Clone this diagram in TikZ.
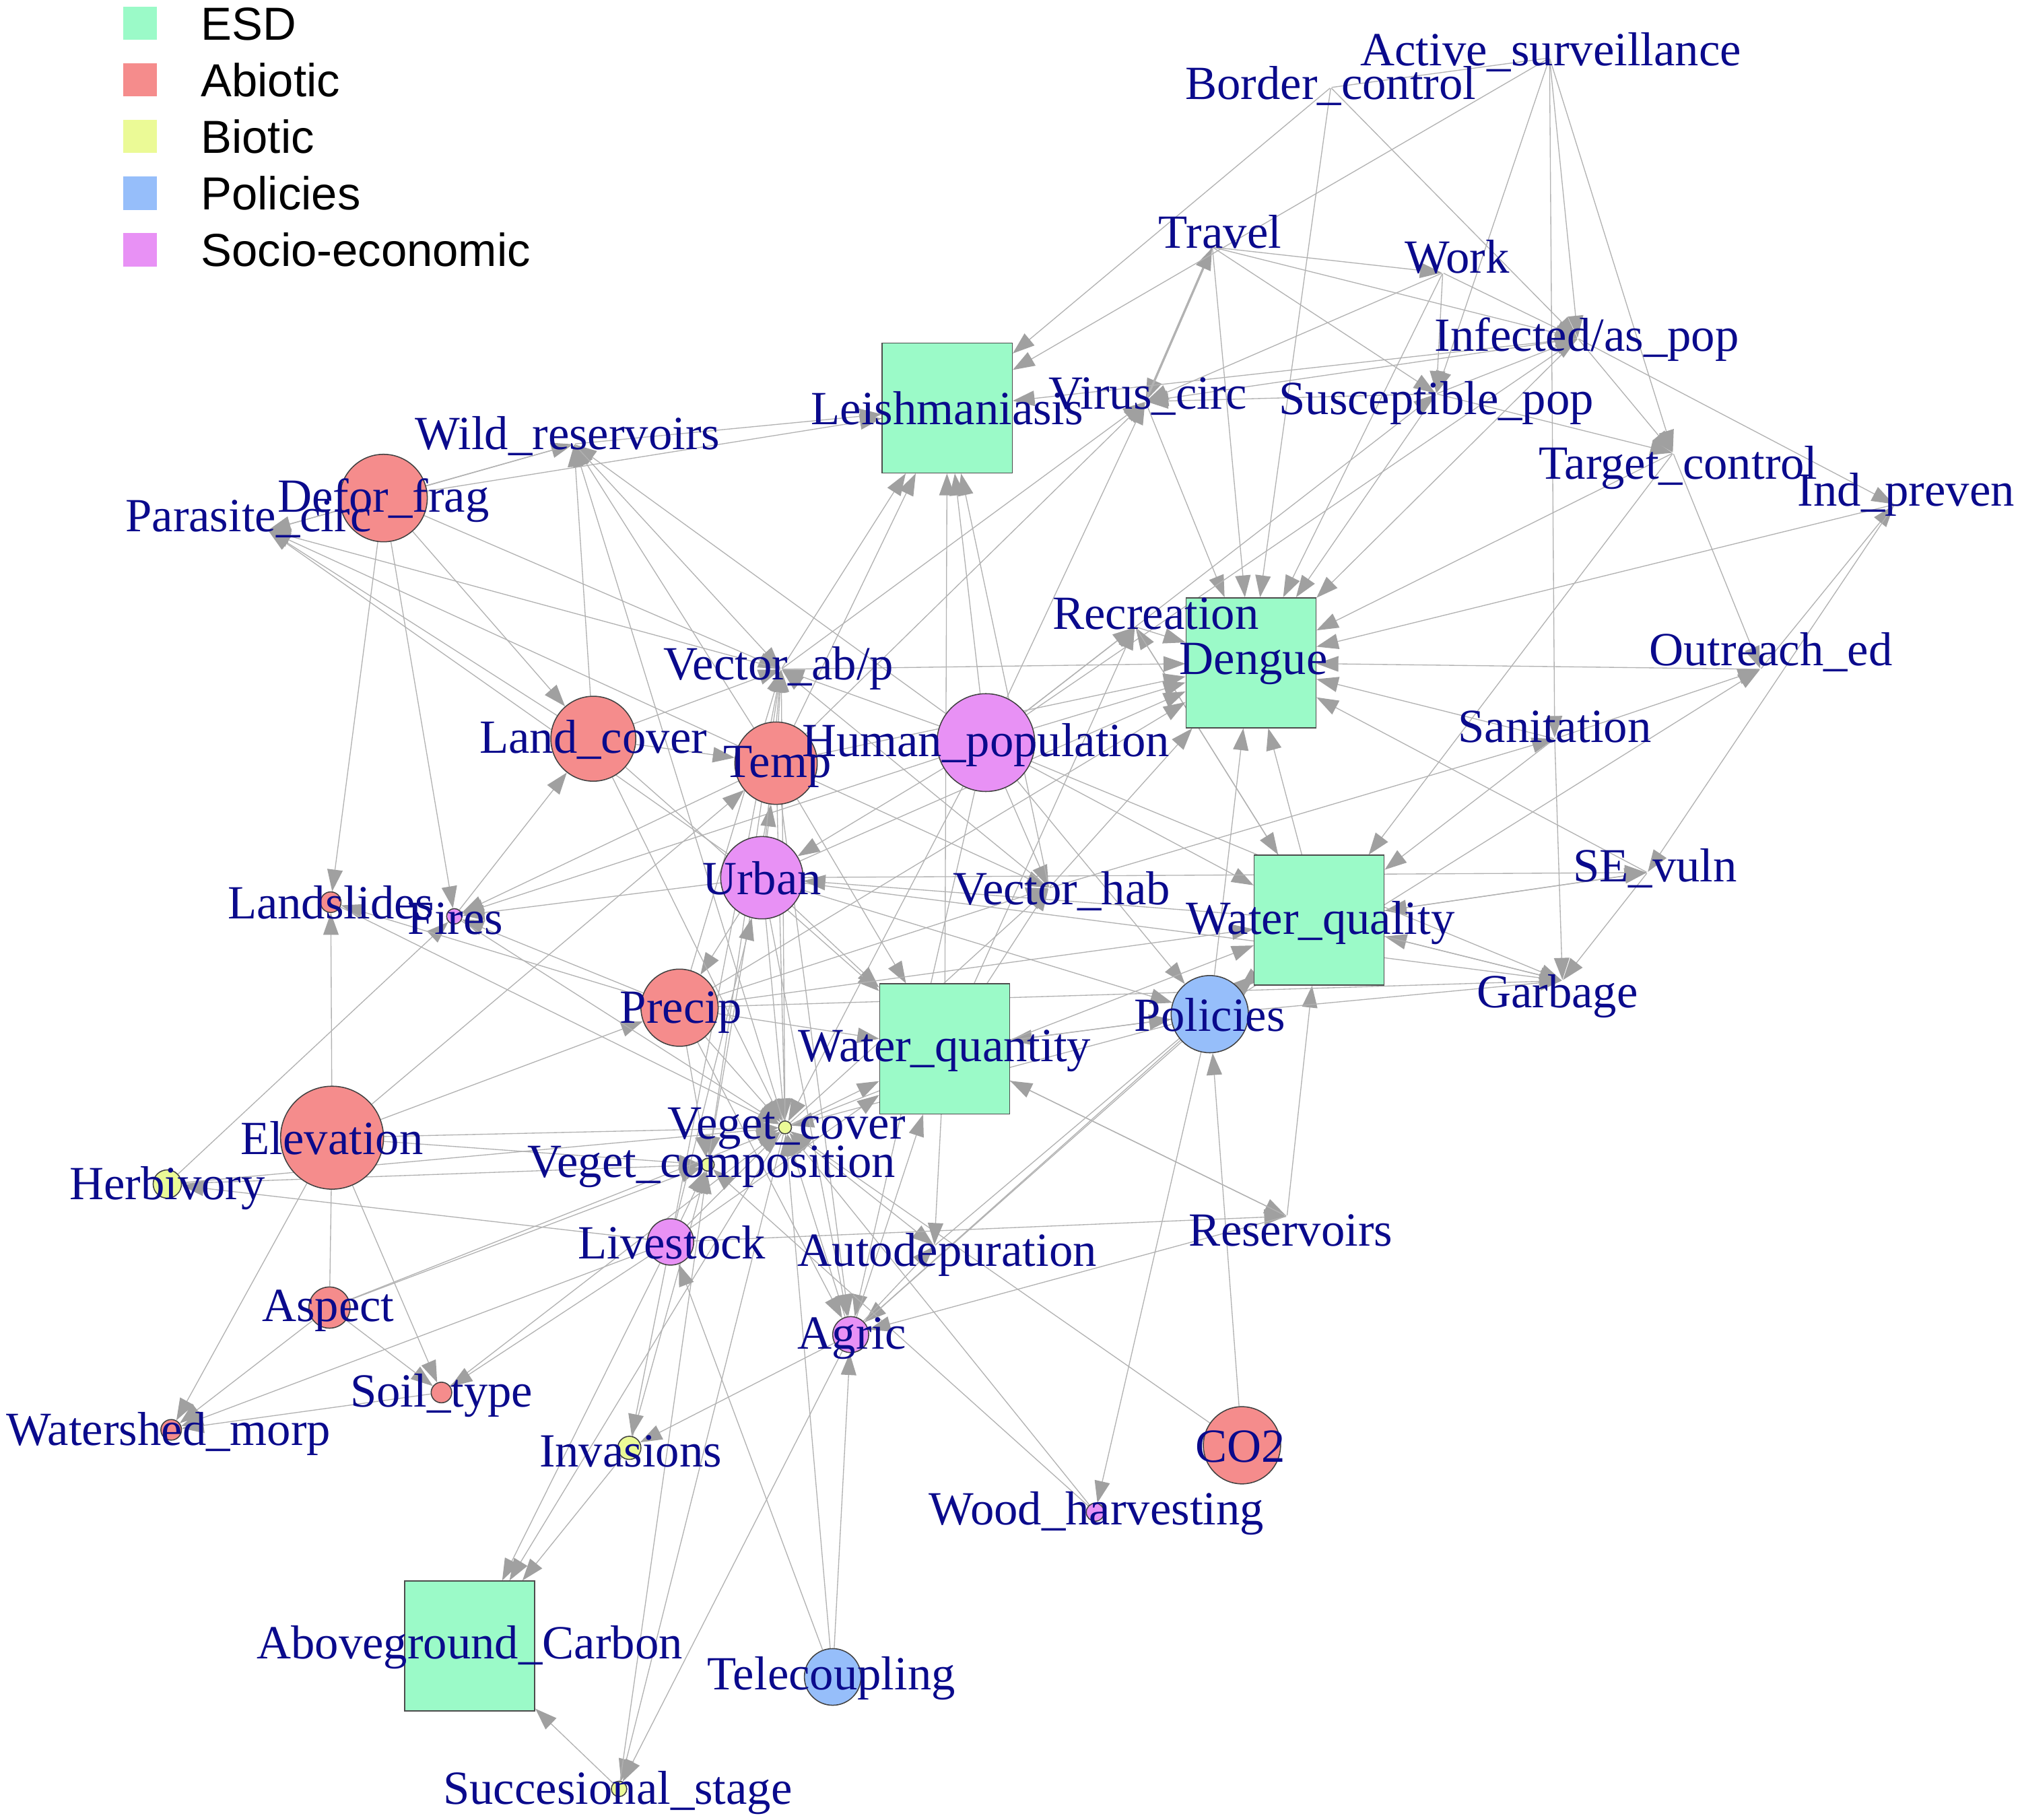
\documentclass[tikz,border=0pt]{standalone}
\usepackage{fontspec}
\setmainfont{Liberation Serif}
\newfontfamily\legfont{Liberation Sans}
\usetikzlibrary{arrows.meta}
\definecolor{esdc}{RGB}{155,250,200}
\definecolor{abioc}{RGB}{245,140,140}
\definecolor{bioc}{RGB}{235,250,150}
\definecolor{polc}{RGB}{150,190,250}
\definecolor{socc}{RGB}{232,145,245}
\definecolor{lblc}{RGB}{10,10,140}
\definecolor{edgec}{RGB}{178,178,178}
\definecolor{tipc}{RGB}{160,160,160}
\pgfdeclarelayer{bg}
\pgfsetlayers{bg,main}
\begin{document}
\begin{tikzpicture}[x=1pt,y=-1pt,
  pt/.style={circle,inner sep=0pt,minimum size=1pt},
  vtx/.style={circle,draw=black!75,line width=0.8pt,inner sep=0pt,minimum size=#1},
  esd/.style={rectangle,draw=black!70,line width=0.8pt,fill=esdc,minimum width=101pt,minimum height=101pt,inner sep=0pt},
  edge/.style={draw=edgec,line width=0.7pt,-{Triangle[length=17pt,width=12pt,color=tipc]}},
  plain/.style={draw=edgec,line width=0.7pt},
  lbl/.style={text=lblc,anchor=base,inner sep=0pt,font=\fontsize{37}{44}\selectfont},
  legtxt/.style={anchor=base west,inner sep=0pt,font=\legfont\fontsize{36}{42}\selectfont},
  legbox/.style={minimum size=26pt,inner sep=0pt}]
\useasboundingbox (0,0) rectangle (1568,1414);

% legend
\node[legbox,fill=esdc] (lg1) at (109,18) {};
\node[legbox,fill=abioc] (lg2) at (109,62) {};
\node[legbox,fill=bioc] (lg3) at (109,106) {};
\node[legbox,fill=polc] (lg4) at (109,150) {};
\node[legbox,fill=socc] (lg5) at (109,194) {};
\node[legtxt] (lt1) at (156,31) {ESD};
\node[legtxt] (lt2) at (156,75) {Abiotic};
\node[legtxt] (lt3) at (156,119) {Biotic};
\node[legtxt] (lt4) at (156,163) {Policies};
\node[legtxt] (lt5) at (156,207) {Socio-economic};

% label-only vertices
\node[pt] (act) at (1204,45) {};
\node[pt] (bor) at (1034,68) {};
\node[pt] (tra) at (942,192) {};
\node[pt] (wrk) at (1121,212) {};
\node[pt] (inf) at (1226,263) {};
\node[pt] (sus) at (1116,306) {};
\node[pt] (vir) at (890,312) {};
\node[pt] (tgt) at (1300,352) {};
\node[pt] (ind) at (1472,392) {};
\node[pt] (out) at (1368,520) {};
\node[pt] (san) at (1208,574) {};
\node[pt] (sev) at (1280,678) {};
\node[pt] (gar) at (1214,762) {};
\node[pt] (res) at (1000,945) {};
\node[pt] (rec) at (882,487) {};
\node[pt] (vab) at (607,520) {};
\node[pt] (vha) at (815,690) {};
\node[pt] (aut) at (726,968) {};
\node[pt] (wil) at (446,345) {};
\node[pt] (par) at (208,412) {};

% ESD boxes
\node[esd] (lei) at (736,317) {};
\node[esd] (den) at (972,515) {};
\node[esd] (wql) at (1025,715) {};
\node[esd] (wqn) at (734,815) {};
\node[esd] (agc) at (365,1279) {};

% abiotic
\node[vtx=68pt,fill=abioc] (def) at (298,387) {};
\node[vtx=66pt,fill=abioc] (lan) at (461,574) {};
\node[vtx=64pt,fill=abioc] (tem) at (603,593) {};
\node[vtx=60pt,fill=abioc] (pre) at (528,783) {};
\node[vtx=80pt,fill=abioc] (ele) at (258,884) {};
\node[vtx=32pt,fill=abioc] (asp) at (256,1016) {};
\node[vtx=16pt,fill=abioc] (soi) at (343,1082) {};
\node[vtx=16pt,fill=abioc] (wat) at (133,1111) {};
\node[vtx=60pt,fill=abioc] (co2) at (965,1123) {};
\node[vtx=16pt,fill=abioc] (lsl) at (257,701) {};
% biotic
\node[vtx=22pt,fill=bioc] (her) at (130,920) {};
\node[vtx=10pt,fill=bioc] (vco) at (610,876) {};
\node[vtx=10pt,fill=bioc] (vcm) at (550,905) {};
\node[vtx=18pt,fill=bioc] (inv) at (489,1125) {};
\node[vtx=12pt,fill=bioc] (suc) at (481,1390) {};
% policies
\node[vtx=60pt,fill=polc] (pol) at (940,788) {};
\node[vtx=44pt,fill=polc] (tel) at (647,1303) {};
% socio-economic
\node[vtx=76pt,fill=socc] (hum) at (766,577) {};
\node[vtx=64pt,fill=socc] (urb) at (592,682) {};
\node[vtx=36pt,fill=socc] (liv) at (521,965) {};
\node[vtx=28pt,fill=socc] (agr) at (661,1037) {};
\node[vtx=12pt,fill=socc] (fir) at (353,712) {};
\node[vtx=14pt,fill=socc] (woo) at (851,1175) {};

\begin{pgfonlayer}{bg}
\draw[plain] (act) -- (bor);
\draw[plain] (ele) -- (asp);
\draw[edge,line width=1.6pt] (tra) -- (vir);
\draw[edge,line width=1.6pt] (vir) -- (tra);
\foreach \a/\b in {bor/lei,act/lei,bor/den,bor/inf,act/sus,act/inf,act/tgt,act/san,
  tra/sus,tra/inf,tra/den,tra/wrk,wrk/inf,wrk/sus,wrk/den,wrk/vir,
  inf/vir,sus/vir,inf/lei,vir/den,inf/den,sus/den,tgt/den,ind/den,out/den,san/den,sev/den,
  sus/inf,inf/tgt,inf/ind,out/ind,tgt/out,sus/tgt,ind/sev,san/gar,san/out,vha/san,san/wql,
  hum/sus,hum/inf,tgt/wql,
  wql/den,pol/den,wql/sev,gar/wql,sev/wql,wql/gar,res/wql,hum/wql,urb/gar,hum/gar,pre/gar,pol/gar,sev/gar,
  urb/sev,wql/urb,wql/pol,pol/wql,co2/pol,pol/woo,pol/wqn,wqn/pol,pol/vco,pol/agr,pol/out,hum/pol,urb/pol,
  wqn/res,res/wqn,wql/rec,wqn/rec,rec/den,rec/wql,
  hum/lei,hum/den,hum/vir,hum/urb,hum/vha,hum/rec,hum/vab,hum/wil,hum/fir,hum/vco,hum/agr,
  tem/vab,tem/lei,tem/den,tem/vir,tem/vco,tem/vcm,tem/vha,tem/par,tem/fir,tem/wil,tem/wqn,
  urb/tem,urb/vab,urb/den,urb/vco,urb/wqn,urb/pre,urb/par,urb/fir,
  lan/wil,lan/par,lan/tem,lan/vco,lan/wqn,lan/vab,
  def/wil,def/lei,def/lsl,def/fir,def/lan,def/par,def/vab,
  fir/lan,her/fir,her/vco,her/vcm,liv/her,
  ele/lsl,pre/lsl,lsl/vco,
  ele/pre,pre/vco,pre/vcm,pre/wqn,pre/vab,pre/fir,pre/agr,pre/vha,pre/den,pre/wql,
  vha/vab,vha/den,vha/lei,wqn/vha,vco/vha,vab/lei,vab/den,vab/vir,vab/par,wil/vab,vco/vab,liv/vab,vcm/vab,
  vco/wqn,vco/wql,vco/wil,vco/agc,vco/aut,vco/suc,
  ele/vco,ele/vcm,asp/vco,asp/vcm,soi/vco,liv/vco,liv/vcm,agr/vco,inv/vcm,suc/vcm,woo/vco,woo/vcm,tel/vco,fir/vco,co2/vco,
  ele/wat,ele/soi,ele/tem,asp/soi,asp/wat,soi/wat,liv/soi,
  liv/wat,liv/agc,liv/inv,liv/res,liv/wqn,liv/urb,tel/liv,
  agr/wqn,agr/wql,agr/suc,agr/inv,tel/agr,res/agr,urb/agr,tem/agr,
  wqn/aut,agr/aut,aut/wql,inv/agc,suc/agc,wqn/lei,wil/lei,wil/par}
  \draw[edge] (\a) -- (\b);
\end{pgfonlayer}

% labels
\node[lbl] (l-act) at (1205,51) {Active\_surveillance};
\node[lbl] (l-bor) at (1034,77) {Border\_control};
\node[lbl] (l-tra) at (948,193) {Travel};
\node[lbl] (l-wrk) at (1132,212) {Work};
\node[lbl] (l-inf) at (1233,273) {Infected/as\_pop};
\node[lbl] (l-sus) at (1116,322) {Susceptible\_pop};
\node[lbl] (l-vir) at (892,318) {Virus\_circ};
\node[lbl] (l-lei) at (736,330) {Leishmaniasis};
\node[lbl] (l-wil) at (441,349) {Wild\_reservoirs};
\node[lbl] (l-def) at (298,398) {Defor\_frag};
\node[lbl] (l-par) at (193,413) {Parasite\_circ};
\node[lbl] (l-tgt) at (1304,372) {Target\_control};
\node[lbl] (l-ind) at (1481,393) {Ind\_preven};
\node[lbl] (l-rec) at (898,489) {Recreation};
\node[lbl] (l-den) at (974,524) {Dengue};
\node[lbl] (l-out) at (1376,517) {Outreach\_ed};
\node[lbl] (l-vab) at (605,528) {Vector\_ab/p};
\node[lbl] (l-lan) at (461,585) {Land\_cover};
\node[lbl] (l-tem) at (604,604) {Temp};
\node[lbl] (l-hum) at (766,588) {Human\_population};
\node[lbl] (l-san) at (1208,577) {Sanitation};
\node[lbl] (l-urb) at (592,695) {Urban};
\node[lbl] (l-vha) at (825,703) {Vector\_hab};
\node[lbl] (l-sev) at (1286,685) {SE\_vuln};
\node[lbl] (l-lsl) at (257,714) {Landslides};
\node[lbl] (l-fir) at (354,726) {Fires};
\node[lbl] (l-wql) at (1026,726) {Water\_quality};
\node[lbl] (l-gar) at (1210,783) {Garbage};
\node[lbl] (l-pre) at (529,795) {Precip};
\node[lbl] (l-pol) at (940,801) {Policies};
\node[lbl] (l-wqn) at (734,825) {Water\_quantity};
\node[lbl] (l-ele) at (258,897) {Elevation};
\node[lbl] (l-vco) at (611,885) {Veget\_cover};
\node[lbl] (l-vcm) at (553,915) {Veget\_composition};
\node[lbl] (l-her) at (130,932) {Herbivory};
\node[lbl] (l-liv) at (522,978) {Livestock};
\node[lbl] (l-aut) at (736,984) {Autodepuration};
\node[lbl] (l-res) at (1003,968) {Reservoirs};
\node[lbl] (l-asp) at (255,1027) {Aspect};
\node[lbl] (l-agr) at (662,1048) {Agric};
\node[lbl] (l-soi) at (343,1093) {Soil\_type};
\node[lbl] (l-wat) at (131,1123) {Watershed\_morp};
\node[lbl] (l-inv) at (490,1140) {Invasions};
\node[lbl] (l-co2) at (964,1136) {CO2};
\node[lbl] (l-woo) at (852,1185) {Wood\_harvesting};
\node[lbl] (l-agc) at (365,1289) {Aboveground\_Carbon};
\node[lbl] (l-tel) at (646,1313) {Telecoupling};
\node[lbl] (l-suc) at (480,1402) {Succesional\_stage};
\end{tikzpicture}
\end{document}
